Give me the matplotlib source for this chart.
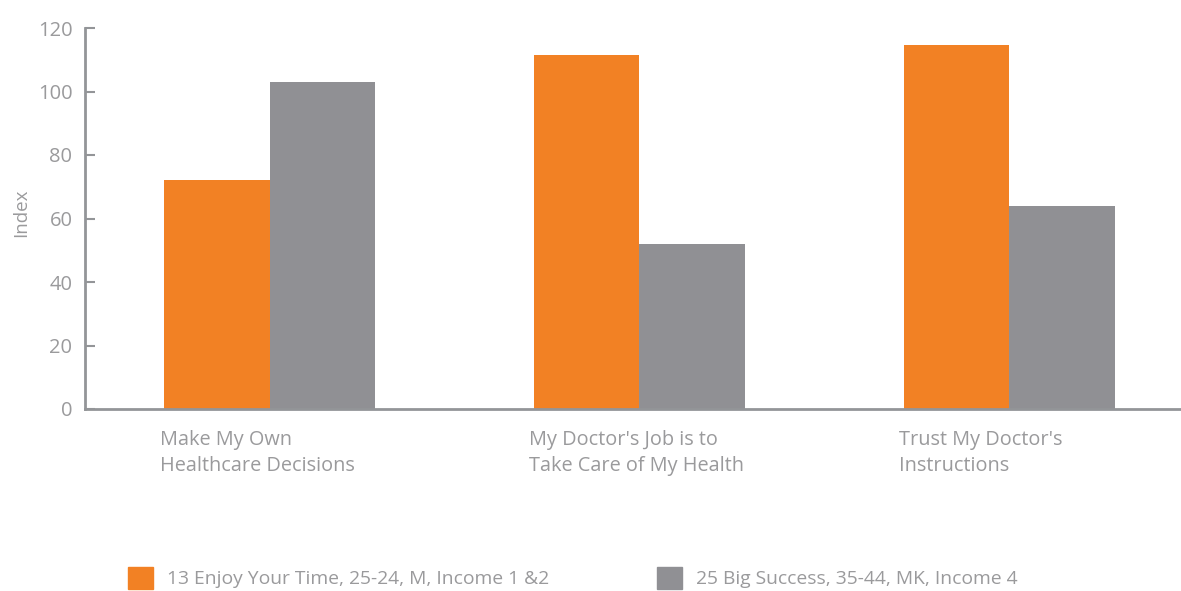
import numpy as np
import matplotlib.pyplot as plt
from matplotlib.patches import Patch

# data
categories = ["Make My Own\nHealthcare Decisions",
              "My Doctor's Job is to\nTake Care of My Health",
              "Trust My Doctor's\nInstructions"]
series_names = ["13 Enjoy Your Time, 25-24, M, Income 1 &2",
                "25 Big Success, 35-44, MK, Income 4"]
enjoy = [72, 111.5, 114.5]
success = [103, 52, 64]

orange = '#F28124'
grey = '#909094'
txt = '#9a9a9c'
axcol = '#939598'

plt.rcParams['font.family'] = ['Open Sans', 'DejaVu Sans']

fig = plt.figure(figsize=(11.81, 5.91), dpi=100)
ax = fig.add_axes([85/1181, 1-409/591, 1-85/1181, 381/591])

x = np.arange(len(categories))
w = 0.2855
ax.bar(x - w/2, enjoy, w, color=orange)
ax.bar(x + w/2, success, w, color=grey)

ax.set_xlim(-0.5, 2.465)
ax.set_ylim(0, 120)
ax.set_yticks(np.arange(0, 121, 20))
ax.tick_params(axis='y', direction='in', length=7, width=1.5, color=axcol,
               labelsize=14.5, labelcolor=txt, pad=9)
ax.set_xticks([])
for c, lab in zip(x, categories):
    ax.text(c - w - 0.012, -6.5, lab, ha='left', va='top', fontsize=14.3,
            color=txt, linespacing=1.45)

for s in ['top', 'right']:
    ax.spines[s].set_visible(False)
for s in ['left', 'bottom']:
    ax.spines[s].set_color(axcol)
    ax.spines[s].set_linewidth(2)

ax.set_ylabel('Index', fontsize=13.5, color=txt)
ax.yaxis.set_label_coords(-0.05, 0.515)

# legend, one entry each
for name, col, xpos in [(series_names[0], orange, 128/1181), (series_names[1], grey, 657/1181)]:
    leg = fig.legend(handles=[Patch(color=col)], labels=[name], loc='center left',
                     bbox_to_anchor=(xpos, 1-578/591), frameon=False, fontsize=13.9,
                     handlelength=1.3, handleheight=1.3, handletextpad=0.7,
                     borderpad=0, borderaxespad=0)
    for t in leg.get_texts():
        t.set_color(txt)

plt.savefig('out.png', dpi=100)
